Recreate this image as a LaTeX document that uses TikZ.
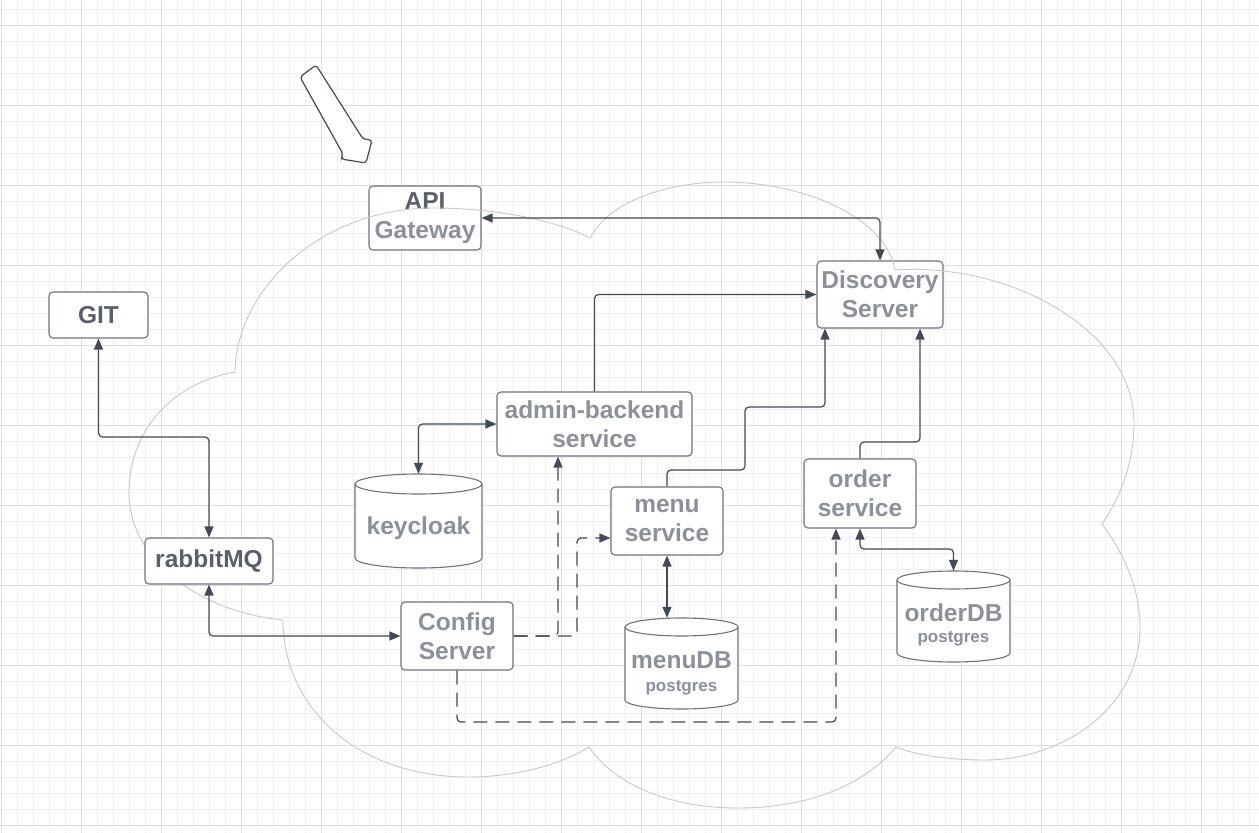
\documentclass[tikz,border=0pt]{standalone}
\usepackage{fontspec}
\setmainfont{Liberation Sans}
\usetikzlibrary{arrows.meta}
\definecolor{gridminor}{HTML}{EFEFEF}
\definecolor{gridmajor}{HTML}{DEDEDE}
\definecolor{boxc}{HTML}{6E737C}
\definecolor{linec}{HTML}{434955}
\definecolor{darktxt}{HTML}{5A5F6A}
\definecolor{lighttxt}{HTML}{8C9099}
\definecolor{cloudc}{HTML}{C9C9C9}
\begin{document}
\begin{tikzpicture}[x=1pt,y=-1pt,
  box/.style={draw=boxc, fill=white, rounded corners=4pt, line width=1.1pt, inner sep=0pt, align=center, text=lighttxt, font=\bfseries\fontsize{24.5}{29}\selectfont},
  darkbox/.style={box, text=darktxt},
  cylhold/.style={inner sep=0pt},
  cylshape/.style={draw=boxc, fill=white, line width=1.1pt},
  biglbl/.style={inner sep=0pt, text=lighttxt, font=\bfseries\fontsize{24.5}{29}\selectfont},
  smalllbl/.style={inner sep=0pt, text=lighttxt, font=\bfseries\fontsize{17}{20}\selectfont},
  conn/.style={draw=linec, line width=1.2pt, rounded corners=4pt},
  dashconn/.style={conn, dash pattern=on 14pt off 8pt},
  >={Triangle[length=11pt,width=9pt]},
  gridmin/.style={draw=gridminor, line width=1pt},
  gridmaj/.style={draw=gridmajor, line width=1pt},
  cloud/.style={draw=cloudc, line width=0.9pt},
  blockarrow/.style={draw=linec, fill=white, line width=1.2pt, rounded corners=3pt}
]
\useasboundingbox (0,0) rectangle (1259,833);
\fill[white] (0,0) rectangle (1259,833);
% grid
\foreach \x in {1,17,...,1260} \draw[gridmin] (\x,0) -- (\x,833);
\foreach \y in {9,25,...,833} \draw[gridmin] (0,\y) -- (1259,\y);
\foreach \x in {1,81,...,1260} \draw[gridmaj] (\x,0) -- (\x,833);
\foreach \y in {25,105,...,833} \draw[gridmaj] (0,\y) -- (1259,\y);

% nodes beneath the cloud outline
\node[box, minimum width=112pt, minimum height=64pt] (api) at (425,218) {{\color{darktxt}API}\\Gateway};
\node[box, minimum width=126pt, minimum height=67pt] (disc) at (880,294.5) {Discovery\\Server};

% cloud
\draw[cloud]
  (235,372) .. controls (236,290) and (320,208) .. (433,208)
            .. controls (500,208) and (560,222) .. (590,238)
            .. controls (610,200) and (670,182) .. (724,182)
            .. controls (800,182) and (885,215) .. (895,270)
            .. controls (1010,262) and (1134,330) .. (1134,423)
            .. controls (1134,470) and (1115,505) .. (1102,524)
            .. controls (1125,555) and (1140,590) .. (1140,627)
            .. controls (1140,710) and (1060,760) .. (985,760)
            .. controls (950,760) and (915,755) .. (896,747)
            .. controls (860,790) and (800,808) .. (738,808)
            .. controls (670,808) and (615,785) .. (589,747)
            .. controls (560,765) and (515,777) .. (468,777)
            .. controls (360,777) and (283,710) .. (283,620)
            .. controls (200,612) and (129,560) .. (129,493)
            .. controls (129,420) and (185,380) .. (235,372);

% other nodes
\node[darkbox, minimum width=99pt, minimum height=46pt] (git) at (98.5,315) {GIT};
\node[darkbox, minimum width=128pt, minimum height=46pt] (rabbit) at (209,561) {rabbitMQ};
\node[box, minimum width=195pt, minimum height=64pt] (admin) at (594.5,424) {admin-backend\\service};
\node[box, minimum width=112pt, minimum height=68pt] (menu) at (667,521) {menu\\service};
\node[box, minimum width=112pt, minimum height=69pt] (order) at (860,493.5) {order\\service};
\node[box, minimum width=112pt, minimum height=68pt] (config) at (457,636) {Config\\Server};

% cylinders
\node[cylhold, minimum width=127pt, minimum height=94pt] (keycloak) at (418.5,521) {};
\path[cylshape] (355,484) -- (355,558) arc[start angle=180,end angle=360,x radius=63.5pt,y radius=10pt] -- (482,484) arc[start angle=0,end angle=180,x radius=63.5pt,y radius=10pt] -- cycle;
\draw[cylshape, fill=none] (355,484) arc[start angle=180,end angle=360,x radius=63.5pt,y radius=10pt];
\node[biglbl] (keycloaklbl) at (418.5,528) {keycloak};

\node[cylhold, minimum width=113pt, minimum height=91pt] (menudb) at (681.5,663.5) {};
\path[cylshape] (625,627) -- (625,700) arc[start angle=180,end angle=360,x radius=56.5pt,y radius=9pt] -- (738,627) arc[start angle=0,end angle=180,x radius=56.5pt,y radius=9pt] -- cycle;
\draw[cylshape, fill=none] (625,627) arc[start angle=180,end angle=360,x radius=56.5pt,y radius=9pt];
\node[biglbl] (menudblbl) at (681.5,660) {menuDB};
\node[smalllbl] (menudbsub) at (681.5,688) {postgres};

\node[cylhold, minimum width=113pt, minimum height=91pt] (orderdb) at (953.5,616.5) {};
\path[cylshape] (897,580) -- (897,653) arc[start angle=180,end angle=360,x radius=56.5pt,y radius=9pt] -- (1010,580) arc[start angle=0,end angle=180,x radius=56.5pt,y radius=9pt] -- cycle;
\draw[cylshape, fill=none] (897,580) arc[start angle=180,end angle=360,x radius=56.5pt,y radius=9pt];
\node[biglbl] (orderdblbl) at (953.5,613) {orderDB};
\node[smalllbl] (orderdbsub) at (953.5,639) {postgres};

% helper coordinates
\coordinate (m1) at (745,470);
\coordinate (m2) at (825,407);
\coordinate (o1) at (920,442);
\coordinate (g1) at (209,437);
\coordinate (c1) at (558,636);
\coordinate (c2) at (577,636);
\coordinate (c3) at (577,538);
\coordinate (c4) at (836,722);
\coordinate (o2) at (953.5,549);

% connectors
\draw[conn,<->] (api.east) -| (disc.north);
\draw[conn,->] (admin.north) |- (disc.west);
\draw[conn,->] (menu.north) |- (m1) |- (m2) -- (disc.south -| m2);
\draw[conn,->] (order.north) |- (o1) -- (disc.south -| o1);
\draw[conn,<->] (git.south) |- (g1) -- (rabbit.north);
\draw[conn,<->] (rabbit.south) |- (config.west);
\draw[conn,<->] (admin.west) -| (keycloak.north);
\draw[dashconn,->] (config.east) -- (c1) -- (admin.south -| c1);
\draw[dashconn,->] (config.east) -- (c2) -- (c3) -- (menu.west |- c3);
\draw[dashconn,->] (config.south) |- (c4) -- (order.south -| c4);
\draw[conn,<->] (order.south) |- (o2) -- (orderdb.north);
\draw[conn,<->] (menu.south) -- (menu.south |- menudb.north);

% block arrow pointing at the gateway
\draw[blockarrow] (300,77) -- (316,65) -- (363,139) -- (372,140) -- (366,163) -- (341,159) -- (343,154) -- cycle;
\end{tikzpicture}
\end{document}
